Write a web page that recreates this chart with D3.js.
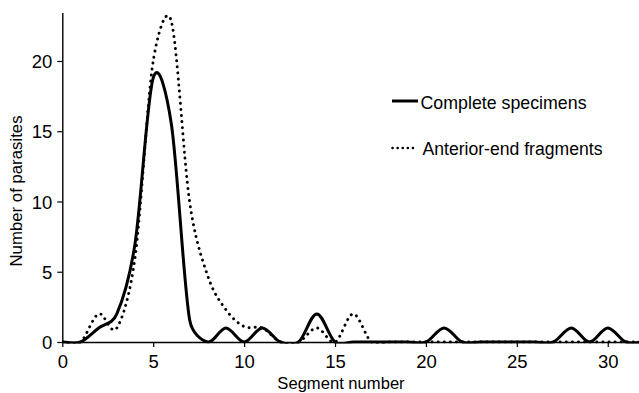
<!DOCTYPE html>
<html>
<head>
<meta charset="utf-8">
<script src="https://cdn.jsdelivr.net/npm/d3@7"></script>
<style>
	body { margin: 0; background: #fff; }
	svg { display: block; font-family: "Liberation Sans", Arial, sans-serif; }
</style>
</head>
<body>
<svg id="chart" width="639" height="393"></svg>
<script>

// segment number along the parasite body
var segments = [0, 1, 2, 3, 4, 5, 6, 7, 8, 9, 10, 11, 12, 13, 14, 15, 16,
	17, 18, 19, 20, 21, 22, 23, 24, 25, 26, 27, 28, 29, 30, 31, 32];

var completeSpecimens = [0, 0, 1, 2, 7, 18.8, 15.5, 1.6, 0, 1, 0, 1, 0, 0, 2, 0, 0,
	0, 0, 0, 0, 1, 0, 0, 0, 0, 0, 0, 1, 0, 1, 0, 0];

var anteriorFragments = [0, 0, 2, 1, 6, 20, 22.8, 10, 4.7, 2.3, 1.1, 1, 0, 0, 1, 0, 2,
	0, 0, 0, 0, 0, 0, 0, 0, 0, 0, 0, 0, 0, 0, 0, 0];

var xTicks = [0, 5, 10, 15, 20, 25, 30];
var yTicks = [0, 5, 10, 15, 20];

var legendLabels = ["Complete specimens", "Anterior-end fragments"];


var svg = d3.select("#chart");

var x = d3.scaleLinear().domain([0, 32]).range([62.3, 644.1]);
var y = d3.scaleLinear().domain([0, 23.45]).range([342, 12.5]);

// clip so the spline undershoot below zero stays hidden
svg.append("defs").append("clipPath")
	.attr("id", "plotClip")
	.append("rect")
	.attr("x", x(0))
	.attr("y", 0)
	.attr("width", 639 - x(0))
	.attr("height", y(0) + 1.6);


// spreadsheet style smoothing: catmull-rom bezier arms (1/6 of the chord),
// but an arm is never longer than half of its own segment
function smoothPath(xs, ys) {
	var pts = xs.map(function(v, i) { return [x(v), y(ys[i])]; });
	var n = pts.length;
	var p = d3.path();

	function arm(a, b, maxLen) {
		var dx = (b[0] - a[0]) / 6, dy = (b[1] - a[1]) / 6;
		var len = Math.sqrt(dx * dx + dy * dy);
		if (len > maxLen && len > 0) {
			dx *= maxLen / len;
			dy *= maxLen / len;
		}
		return [dx, dy];
	}

	p.moveTo(pts[0][0], pts[0][1]);
	for (var i = 0; i < n - 1; i++) {
		var p0 = pts[Math.max(i - 1, 0)];
		var p1 = pts[i];
		var p2 = pts[i + 1];
		var p3 = pts[Math.min(i + 2, n - 1)];
		var half = Math.sqrt(Math.pow(p2[0] - p1[0], 2) + Math.pow(p2[1] - p1[1], 2)) / 2;
		var a1 = arm(p0, p2, half);
		var a2 = arm(p1, p3, half);
		p.bezierCurveTo(p1[0] + a1[0], p1[1] + a1[1], p2[0] - a2[0], p2[1] - a2[1], p2[0], p2[1]);
	}
	return p.toString();
}

var plot = svg.append("g").attr("clip-path", "url(#plotClip)");

plot.append("path")
	.attr("d", smoothPath(segments, anteriorFragments))
	.attr("fill", "none")
	.attr("stroke", "#000")
	.attr("stroke-width", 2.9)
	.attr("stroke-linecap", "round")
	.attr("stroke-dasharray", "0.1 6");

plot.append("path")
	.attr("d", smoothPath(segments, completeSpecimens))
	.attr("fill", "none")
	.attr("stroke", "#000")
	.attr("stroke-width", 3)
	.attr("stroke-linejoin", "round");


// axes
var xAxis = svg.append("g")
	.attr("transform", "translate(0," + y(0) + ")")
	.call(d3.axisBottom(x).tickValues(xTicks).tickSize(5).tickSizeOuter(0).tickPadding(8));

var yAxis = svg.append("g")
	.attr("transform", "translate(" + x(0) + ",0)")
	.call(d3.axisLeft(y).tickValues(yTicks).tickSize(5).tickSizeOuter(0).tickPadding(5));

[xAxis, yAxis].forEach(function(ax) {
	ax.select(".domain").attr("stroke-width", 1.4);
	ax.selectAll(".tick line").attr("stroke-width", 1.2);
	ax.selectAll(".tick text")
		.attr("font-family", "Liberation Sans, Arial, sans-serif")
		.attr("font-size", 18.5)
		.attr("fill", "#000");
});

yAxis.selectAll(".tick text").attr("dy", "0.36em");

// axis titles
svg.append("text")
	.attr("x", 341)
	.attr("y", 388.5)
	.attr("text-anchor", "middle")
	.attr("font-size", 16.6)
	.text("Segment number");

svg.append("text")
	.attr("transform", "translate(21.5,191) rotate(-90)")
	.attr("text-anchor", "middle")
	.attr("font-size", 16.8)
	.text("Number of parasites");


// legend
var legend = svg.append("g");

legend.append("line")
	.attr("x1", 392).attr("x2", 418)
	.attr("y1", 101).attr("y2", 101)
	.attr("stroke", "#000")
	.attr("stroke-width", 3);

legend.append("text")
	.attr("x", 420.5)
	.attr("y", 109.3)
	.attr("font-size", 17.8)
	.text(legendLabels[0]);

legend.append("line")
	.attr("x1", 392.5).attr("x2", 418)
	.attr("y1", 148).attr("y2", 148)
	.attr("stroke", "#000")
	.attr("stroke-width", 2.5)
	.attr("stroke-linecap", "round")
	.attr("stroke-dasharray", "0.1 5");

legend.append("text")
	.attr("x", 422.5)
	.attr("y", 155)
	.attr("font-size", 17.6)
	.text(legendLabels[1]);

</script>
</body>
</html>
